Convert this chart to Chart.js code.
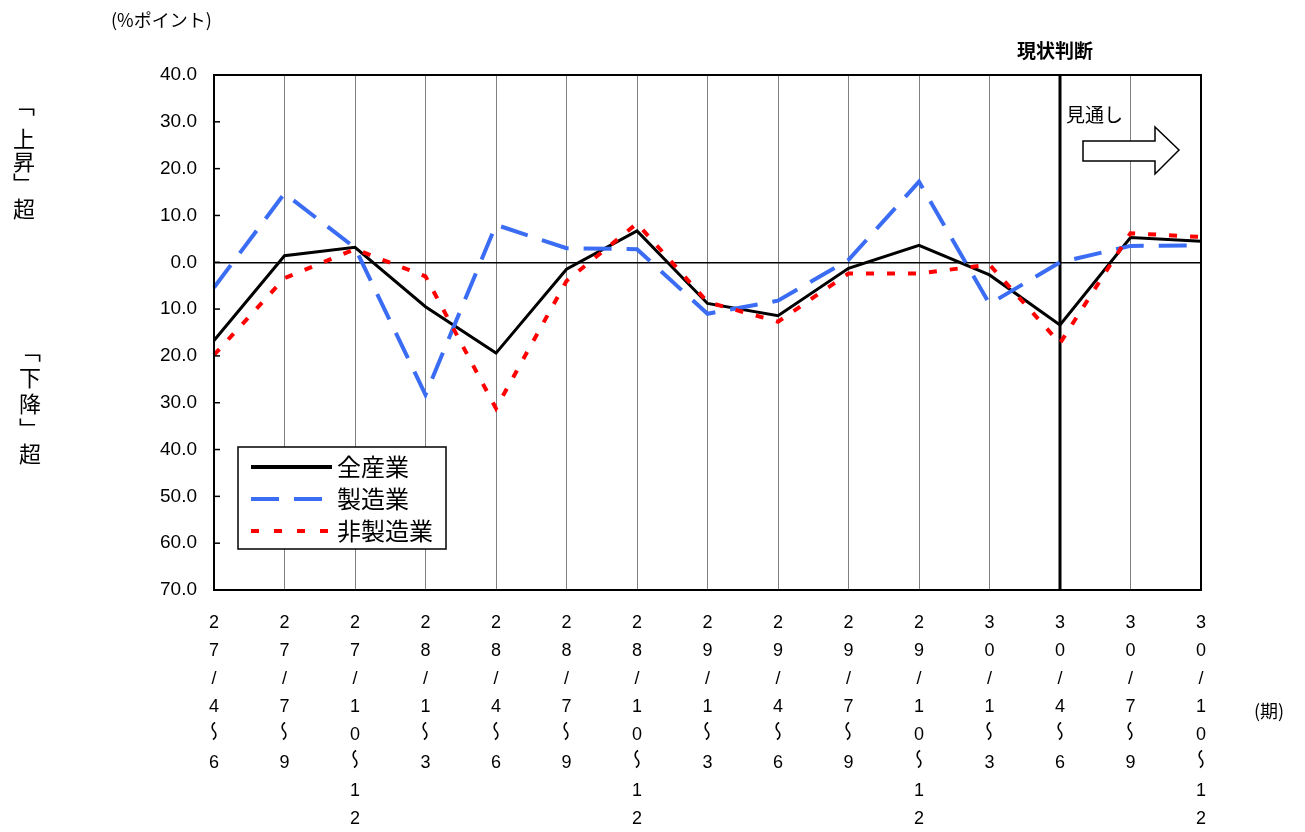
<!DOCTYPE html>
<html><head><meta charset="utf-8">
<script src="https://cdn.jsdelivr.net/npm/chart.js@4"></script>
<style>html,body{margin:0;padding:0;background:#fff;}canvas{display:block}</style>
</head><body>
<canvas id="c" width="1305" height="832"></canvas>
<script>
const categories = ['27/4～6','27/7～9','27/10～12','28/1～3','28/4～6','28/7～9','28/10～12','29/1～3','29/4～6','29/7～9','29/10～12','30/1～3','30/4～6','30/7～9','30/10～12'];
const allIndustries = [-16.7, 1.4, 3.2, -9.5, -19.4, -1.5, 6.7, -8.8, -11.4, -1.3, 3.6, -2.7, -13.4, 5.3, 4.5];
const manufacturing = [-5.4, 14.7, 3.1, -28.3, 8.0, 3.0, 2.8, -11.0, -8.2, 0.5, 17.2, -8.9, 0.0, 3.5, 3.6];
const nonManufacturing = [-19.8, -3.4, 2.8, -3.0, -31.2, -4.0, 8.3, -8.5, -12.7, -2.4, -2.4, -0.5, -17.3, 6.2, 5.4];
const yTicks = [40, 30, 20, 10, 0, -10, -20, -30, -40, -50, -60, -70];
const seriesNames = ['全産業', '製造業', '非製造業'];
const currentLabel = '30/4～6';

const JP = '"Noto Sans CJK JP", "Liberation Sans", sans-serif';
const LAT = '"Liberation Sans", "DejaVu Sans", "Noto Sans CJK JP", sans-serif';

const decor = {
  id: 'decor',
  beforeDatasetsDraw(chart) {
    const {ctx, chartArea: a, scales: {x}} = chart;
    const px = x.getPixelForValue(categories.indexOf(currentLabel));
    ctx.save();
    ctx.strokeStyle = '#000'; ctx.lineWidth = 3;
    ctx.beginPath(); ctx.moveTo(px, a.top); ctx.lineTo(px, a.bottom); ctx.stroke();
    ctx.restore();
  },
  afterDraw(chart) {
    const {ctx, chartArea: a, scales: {x, y}} = chart;
    ctx.save();
    // plot border
    ctx.strokeStyle = '#000'; ctx.lineWidth = 2; ctx.setLineDash([]);
    ctx.strokeRect(a.left, a.top, a.right - a.left, a.bottom - a.top);
    // inward ticks on the value axis
    ctx.lineWidth = 1.5;
    y.ticks.forEach(t => {
      const py = y.getPixelForValue(t.value);
      ctx.beginPath(); ctx.moveTo(a.left, py); ctx.lineTo(a.left + 6, py); ctx.stroke();
    });
    // vertical category labels (stacked characters, wave dash turned upright)
    ctx.fillStyle = '#000'; ctx.textAlign = 'center'; ctx.textBaseline = 'middle';
    x.ticks.forEach((t, i) => {
      const px = x.getPixelForValue(i);
      categories[i].split('').forEach((ch, k) => {
        const py = a.bottom + 33 + k * 28;
        if (ch === '～') {
          ctx.save();
          ctx.translate(px, py - 4);
          ctx.rotate(Math.PI / 2);
          ctx.scale(1, -1);
          ctx.font = '20px ' + JP;
          ctx.fillText(ch, 0, 0);
          ctx.restore();
        } else {
          ctx.font = '18px ' + LAT;
          ctx.fillText(ch, px, py);
        }
      });
    });
    // legend
    const lx = 238, ly = 447, lw = 208, lh = 102;
    ctx.fillStyle = '#fff'; ctx.fillRect(lx, ly, lw, lh);
    ctx.strokeStyle = '#000'; ctx.lineWidth = 1.5; ctx.strokeRect(lx, ly, lw, lh);
    chart.data.datasets.forEach((ds, i) => {
      const ry = 467 + i * 32;
      ctx.save();
      ctx.strokeStyle = ds.borderColor; ctx.lineWidth = 4;
      ctx.setLineDash(ds.legendDash || []); ctx.lineCap = 'butt';
      ctx.beginPath(); ctx.moveTo(251, ry); ctx.lineTo(332, ry); ctx.stroke();
      ctx.restore();
      ctx.fillStyle = '#000'; ctx.font = '24px ' + JP;
      ctx.textAlign = 'left'; ctx.textBaseline = 'middle';
      ctx.fillText(ds.label, 337, ry);
    });
    // annotations
    ctx.fillStyle = '#000'; ctx.textBaseline = 'middle';
    ctx.font = '18px ' + JP; ctx.textAlign = 'left';
    ctx.fillText('(%ポイント)', 111, 20);
    ctx.fillText('(期)', 1254, 711);
    ctx.font = 'bold 19px ' + JP; ctx.textAlign = 'center';
    const cx = x.getPixelForValue(categories.indexOf(currentLabel));
    ctx.fillText('現状判断', cx - 5, 51);
    ctx.font = '19px ' + JP; ctx.textAlign = 'left';
    ctx.fillText('見通し', 1066, 115);
    // arrow
    ctx.beginPath();
    ctx.moveTo(1083, 141); ctx.lineTo(1155, 141); ctx.lineTo(1155, 127);
    ctx.lineTo(1179, 150); ctx.lineTo(1155, 174); ctx.lineTo(1155, 161);
    ctx.lineTo(1083, 161); ctx.closePath();
    ctx.fillStyle = '#fff'; ctx.fill();
    ctx.strokeStyle = '#000'; ctx.lineWidth = 1.5; ctx.stroke();
    // vertical side labels
    ctx.fillStyle = '#000'; ctx.font = '22px ' + JP; ctx.textAlign = 'center';
    const up = [['﹁', 24, 105], ['上', 24, 139], ['昇', 24, 162], ['﹂', 24, 184], ['超', 24, 209]];
    const down = [['﹁', 30, 351], ['下', 30, 378], ['降', 30, 404], ['﹂', 30, 429], ['超', 30, 454]];
    up.concat(down).forEach(([ch, tx, ty]) => ctx.fillText(ch, tx, ty));
    ctx.restore();
  }
};

new Chart(document.getElementById('c'), {
  type: 'line',
  data: {
    labels: categories,
    datasets: [
      {label: seriesNames[0], data: allIndustries, borderColor: '#000000', borderWidth: 3, pointRadius: 0, tension: 0, order: 2},
      {label: seriesNames[1], data: manufacturing, borderColor: '#3a6cf4', borderWidth: 4, borderDash: [28, 15], legendDash: [28, 15], pointRadius: 0, tension: 0, order: 1},
      {label: seriesNames[2], data: nonManufacturing, borderColor: '#ff0000', borderWidth: 4, borderDash: [8, 13], legendDash: [8, 15], pointRadius: 0, tension: 0, order: 0}
    ]
  },
  options: {
    responsive: false,
    animation: false,
    layout: {padding: {left: 0, top: 75, right: 104, bottom: 0}},
    plugins: {legend: {display: false}, tooltip: {enabled: false}, title: {display: false}},
    scales: {
      x: {
        offset: false,
        grid: {color: '#808080', lineWidth: 1, drawTicks: false},
        border: {display: true, color: '#000', width: 2},
        ticks: {autoSkip: false, maxRotation: 0, minRotation: 0, display: false},
        afterFit: s => { s.height = 242; }
      },
      y: {
        min: -70, max: 40,
        afterBuildTicks: s => { s.ticks = yTicks.map(v => ({value: v})); },
        grid: {
          drawTicks: false,
          color: c => (c.tick && c.tick.value === 0) ? '#000' : 'rgba(0,0,0,0)',
          lineWidth: c => (c.tick && c.tick.value === 0) ? 1.5 : 0
        },
        border: {display: true, color: '#000', width: 2},
        ticks: {
          padding: 17, color: '#000',
          font: {family: LAT, size: 19},
          callback: v => Math.abs(v).toFixed(1)
        },
        afterFit: s => { s.width = 214; }
      }
    }
  },
  plugins: [decor]
});
</script>
</body></html>
